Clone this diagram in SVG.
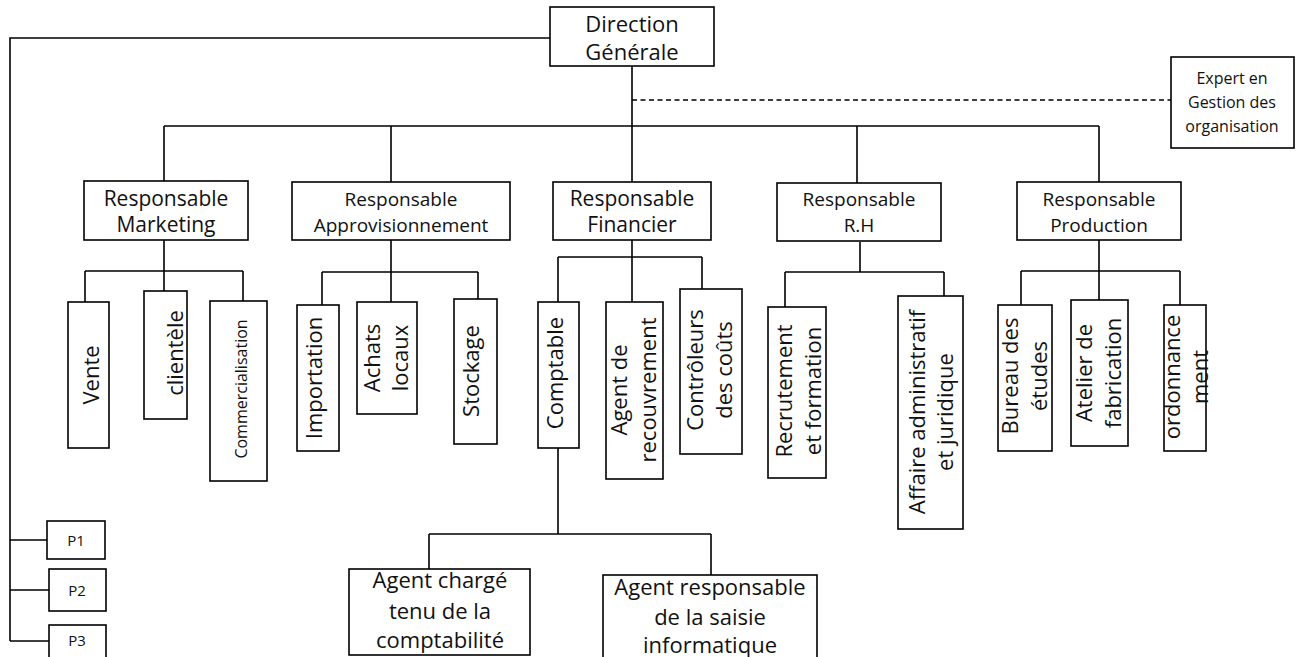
<svg xmlns="http://www.w3.org/2000/svg" width="1301" height="657" viewBox="0 0 1301 657">
<style>
.box{fill:#fff;stroke:#000;stroke-width:1.6}
.c{fill:none;stroke:#000;stroke-width:1.6}
.d{fill:none;stroke:#000;stroke-width:1.4;stroke-dasharray:5 3.5}
text{font-family:"Open Sans","Liberation Sans",sans-serif;fill:#111;text-anchor:middle}
.s22{font-size:22px}.s21{font-size:21px}.s19{font-size:19px}.s16{font-size:16px}.s15{font-size:15px}
</style>
<rect x="0" y="0" width="1301" height="657" fill="#fff"/>
<g id="connectors">
<path class="c" d="M550 38H10V641M10 540H47M10 590H49M10 641H49"/>
<path class="c" d="M632 66V182M164 126H1099M164 126V181M391 126V182M857 126V183M1099 126V182"/>
<path class="d" d="M632 100H1171"/>
<path class="c" d="M164 240V291M85 271H243M85 271V302M243 271V301"/>
<path class="c" d="M391 240V302M322 272H478M322 272V305M478 272V299"/>
<path class="c" d="M632 240V302M558 257H702M558 257V302M702 257V289"/>
<path class="c" d="M558 448V534M429 534H711M429 534V569M711 534V575"/>
<path class="c" d="M860 242V272M785 272H944M785 272V307M944 272V296"/>
<path class="c" d="M1099 240V300M1021 271H1180M1021 271V305M1180 271V305"/>
</g>
<g id="direction"><rect class="box" x="550" y="7" width="164" height="59"/><text class="s22" x="632" y="32">Direction</text><text class="s22" x="632" y="60">Générale</text></g>
<g id="expert"><rect class="box" x="1171" y="57" width="123" height="91"/><text class="s16" x="1232" y="84">Expert en</text><text class="s16" x="1232" y="108">Gestion des</text><text class="s16" x="1232" y="132">organisation</text></g>
<g id="marketing"><rect class="box" x="84" y="181" width="164" height="59"/><text class="s21" x="166" y="206">Responsable</text><text class="s21" x="166" y="232">Marketing</text></g>
<g id="appro"><rect class="box" x="292" y="182" width="218" height="58"/><text class="s19" x="401" y="206">Responsable</text><text class="s19" x="401" y="232">Approvisionnement</text></g>
<g id="financier"><rect class="box" x="553" y="182" width="158" height="58"/><text class="s21" x="632" y="206">Responsable</text><text class="s21" x="632" y="232">Financier</text></g>
<g id="rh"><rect class="box" x="777" y="183" width="164" height="58"/><text class="s19" x="859" y="206">Responsable</text><text class="s19" x="859" y="232">R.H</text></g>
<g id="production"><rect class="box" x="1017" y="182" width="164" height="58"/><text class="s19" x="1099" y="206">Responsable</text><text class="s19" x="1099" y="232">Production</text></g>
<g id="vente"><rect class="box" x="68" y="302" width="41" height="146"/><text class="s22" transform="translate(99 375) rotate(-90)">Vente</text></g>
<g id="clientele"><rect class="box" x="144" y="291" width="43" height="128"/><text class="s22" transform="translate(183 353) rotate(-90)">clientèle</text></g>
<g id="commercialisation"><rect class="box" x="210" y="301" width="57" height="180"/><text class="s16" transform="translate(247 389) rotate(-90)">Commercialisation</text></g>
<g id="importation"><rect class="box" x="297" y="305" width="42" height="146"/><text class="s22" transform="translate(322 378) rotate(-90)">Importation</text></g>
<g id="achats"><rect class="box" x="357" y="302" width="60" height="112"/><text class="s22" transform="translate(380 358) rotate(-90)">Achats</text><text class="s22" transform="translate(408 358) rotate(-90)">locaux</text></g>
<g id="stockage"><rect class="box" x="454" y="299" width="43" height="145"/><text class="s22" transform="translate(479 371) rotate(-90)">Stockage</text></g>
<g id="comptable"><rect class="box" x="538" y="302" width="41" height="146"/><text class="s22" transform="translate(563 373) rotate(-90)">Comptable</text></g>
<g id="recouvrement"><rect class="box" x="606" y="302" width="57" height="177"/><text class="s22" transform="translate(627 390) rotate(-90)">Agent de</text><text class="s22" transform="translate(656 390) rotate(-90)">recouvrement</text></g>
<g id="controleurs"><rect class="box" x="680" y="289" width="62" height="165"/><text class="s22" transform="translate(703 370) rotate(-90)">Contrôleurs</text><text class="s22" transform="translate(732 370) rotate(-90)">des coûts</text></g>
<g id="recrutement"><rect class="box" x="768" y="307" width="58" height="171"/><text class="s22" transform="translate(792 391) rotate(-90)">Recrutement</text><text class="s22" transform="translate(821 391) rotate(-90)">et formation</text></g>
<g id="affaire"><rect class="box" x="898" y="296" width="65" height="233"/><text class="s22" transform="translate(925 412) rotate(-90)">Affaire administratif</text><text class="s22" transform="translate(953 412) rotate(-90)">et juridique</text></g>
<g id="bureau"><rect class="box" x="998" y="305" width="54" height="146"/><text class="s22" transform="translate(1018 376) rotate(-90)">Bureau des</text><text class="s22" transform="translate(1047 376) rotate(-90)">études</text></g>
<g id="atelier"><rect class="box" x="1071" y="300" width="57" height="146"/><text class="s22" transform="translate(1092 373) rotate(-90)">Atelier de</text><text class="s22" transform="translate(1121 373) rotate(-90)">fabrication</text></g>
<g id="ordonnancement"><rect class="box" x="1164" y="305" width="42" height="146"/><text class="s22" transform="translate(1180 377) rotate(-90)">ordonnance</text><text class="s22" transform="translate(1208 377) rotate(-90)">ment</text></g>
<g id="agent-charge"><rect class="box" x="349" y="569" width="181" height="86"/><text class="s22" x="440" y="588">Agent chargé</text><text class="s22" x="440" y="619">tenu de la</text><text class="s22" x="440" y="648">comptabilité</text></g>
<g id="agent-saisie"><rect class="box" x="603" y="575" width="214" height="100"/><text class="s22" x="710" y="595">Agent responsable</text><text class="s22" x="710" y="625">de la saisie</text><text class="s22" x="710" y="653">informatique</text></g>
<g id="p1"><rect class="box" x="47" y="521" width="58" height="38"/><text class="s15" x="76" y="546">P1</text></g>
<g id="p2"><rect class="box" x="49" y="569" width="57" height="42"/><text class="s15" x="77" y="596">P2</text></g>
<g id="p3"><rect class="box" x="49" y="625" width="57" height="40"/><text class="s15" x="77" y="646">P3</text></g>
</svg>
